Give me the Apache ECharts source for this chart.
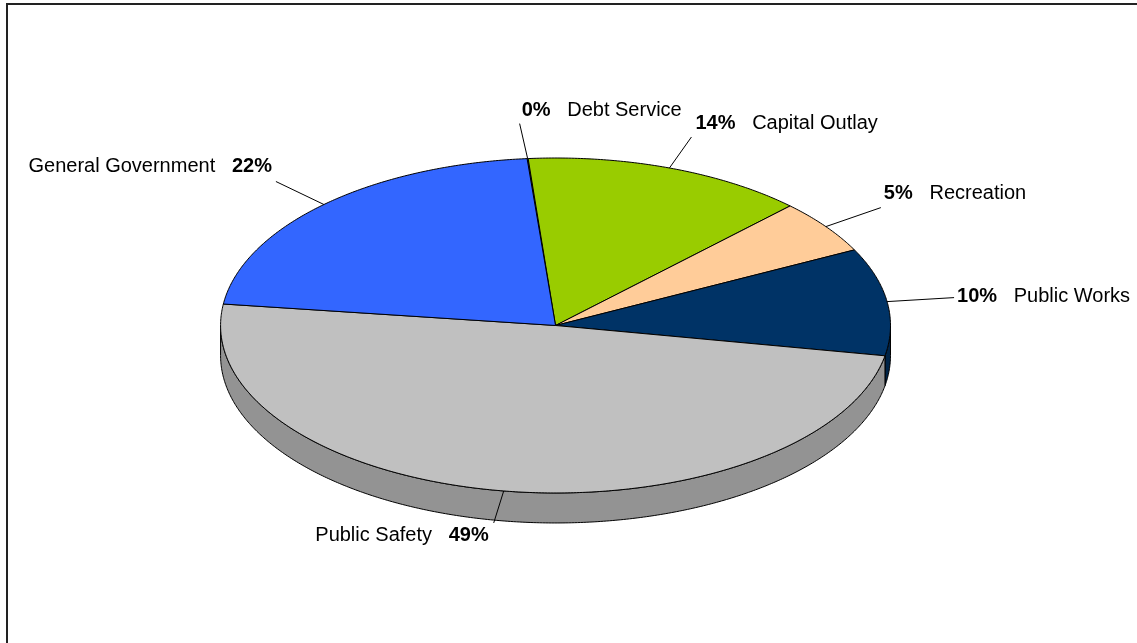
<!DOCTYPE html>
<html>
<head>
<meta charset="utf-8">
<script src="https://cdn.jsdelivr.net/npm/echarts@6/dist/echarts.min.js"></script>
<style>
  html, body { margin: 0; padding: 0; background: #fff; }
  #chart { width: 1137px; height: 643px; }
</style>
</head>
<body>
<div id="chart"></div>
<script>
// Expenditure categories, clockwise from the top of the pie
const categories = ['Debt Service', 'Capital Outlay', 'Recreation', 'Public Works', 'Public Safety', 'General Government'];
// Share of total spending (percent)
const shares = [0.05, 13.65, 5.2, 10.35, 49.15, 21.6];
// Fill of the top face and of the visible rim wall
const topColors = ['#993366', '#99CC00', '#FFCC99', '#003366', '#C0C0C0', '#3366FF'];
const sideColors = ['#6b2447', '#6b8f00', '#b38f6b', '#002447', '#939393', '#2448b3'];
// Label placement: leader end relative to the rim point at the slice middle,
// then text anchor relative to the leader end
const labelLayout = [
  { leader: [-8, -35], text: [2, -13], align: 'left', nameFirst: false },
  { leader: [22, -31], text: [4, -14], align: 'left', nameFirst: false },
  { leader: [55, -19], text: [3, -14], align: 'left', nameFirst: false },
  { leader: [67, -4], text: [3, -1], align: 'left', nameFirst: false },
  { leader: [-10, 32], text: [-5, 13], align: 'right', nameFirst: true },
  { leader: [-48, -23], text: [-4, -15], align: 'right', nameFirst: true }
];

const START_DEG = -4.87;   // first slice edge, clockwise from 12 o'clock
const FONT = '"Liberation Sans", Arial, Helvetica, sans-serif';

const total = shares.reduce((a, b) => a + b, 0);
let acc = 0;
const seriesData = shares.map((v, i) => {
  const from = acc;
  acc += v;
  return { name: categories[i], value: [from, acc, v] };
});

function rimPoint(cx, cy, rx, ry, deg) {
  const r = deg * Math.PI / 180;
  return [cx + rx * Math.sin(r), cy - ry * Math.cos(r)];
}
function arc(cx, cy, rx, ry, d0, d1) {
  const pts = [];
  const n = Math.max(2, Math.ceil(Math.abs(d1 - d0) / 0.5));
  for (let k = 0; k <= n; k++) pts.push(rimPoint(cx, cy, rx, ry, d0 + (d1 - d0) * k / n));
  return pts;
}

function renderItem(params, api) {
  const W = api.getWidth(), H = api.getHeight();
  const cx = W * 0.4886, cy = H * 0.5062;
  const rx = W * 0.2946, ry = rx * 0.5, depth = 30;
  const i = params.dataIndex;
  const a0 = START_DEG + api.value(0) / total * 360;
  const a1 = START_DEG + api.value(1) / total * 360;
  const children = [];

  // rim wall on the front half of the disc
  const s0 = Math.max(a0, 90), s1 = Math.min(a1, 270);
  if (s1 > s0) {
    const upper = arc(cx, cy, rx, ry, s0, s1);
    const lower = arc(cx, cy + depth, rx, ry, s1, s0);
    children.push({
      type: 'polygon', z2: 1,
      shape: { points: upper.concat(lower) },
      style: { fill: sideColors[i], stroke: '#000', lineWidth: 1 }
    });
  }

  // top face
  children.push({
    type: 'polygon', z2: 5,
    shape: { points: [[cx, cy]].concat(arc(cx, cy, rx, ry, a0, a1)) },
    style: { fill: topColors[i], stroke: '#000', lineWidth: 1, lineJoin: 'round' }
  });

  // leader line and label
  const lay = labelLayout[i];
  const mid = (a0 + a1) / 2;
  const p = rimPoint(cx, cy, rx, ry, mid);
  const e = [p[0] + lay.leader[0], p[1] + lay.leader[1]];
  children.push({
    type: 'polyline', z2: 10,
    shape: { points: [p, e] },
    style: { stroke: '#000', lineWidth: 1, fill: null }
  });
  const pct = Math.round(api.value(2) / total * 100) + '%';
  const name = categories[i];
  const txt = lay.nameFirst ? '{n|' + name + '}   {p|' + pct + '}' : '{p|' + pct + '}   {n|' + name + '}';
  children.push({
    type: 'text', z2: 10,
    x: e[0] + lay.text[0], y: e[1] + lay.text[1],
    style: {
      text: txt,
      align: lay.align,
      verticalAlign: 'middle',
      fontFamily: FONT,
      fontSize: 20,
      fill: '#000',
      rich: {
        p: { fontFamily: FONT, fontSize: 20, fontWeight: 'bold', fill: '#000' },
        n: { fontFamily: FONT, fontSize: 20, fill: '#000' }
      }
    }
  });

  return { type: 'group', children: children };
}

const chart = echarts.init(document.getElementById('chart'), null, { renderer: 'canvas' });
chart.setOption({
  animation: false,
  backgroundColor: '#fff',
  graphic: [{
    type: 'polyline',
    shape: { points: [[7, 643], [7, 4], [1137, 4]] },
    style: { stroke: '#222', lineWidth: 2, fill: null },
    silent: true
  }],
  series: [{
    type: 'custom',
    coordinateSystem: 'none',
    renderItem: renderItem,
    data: seriesData,
    silent: true
  }]
});
</script>
</body>
</html>
